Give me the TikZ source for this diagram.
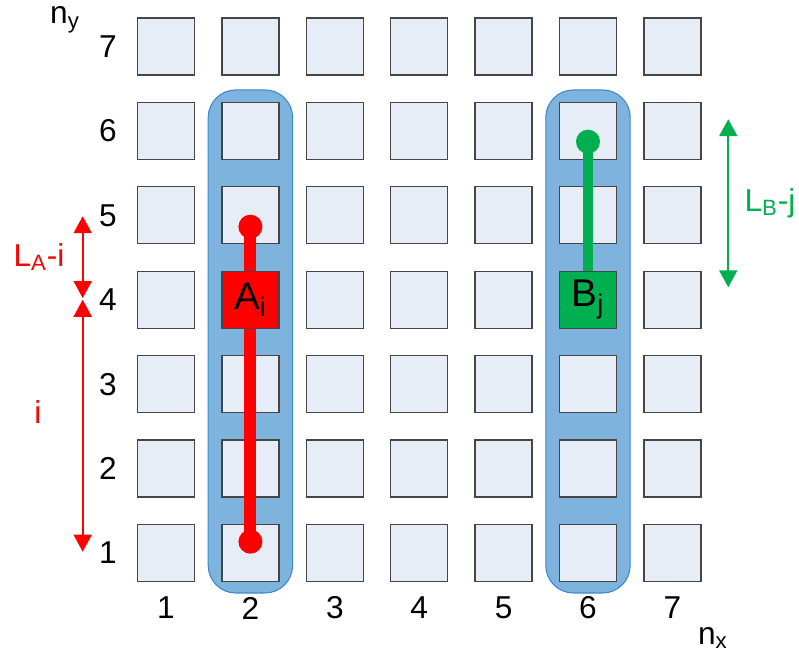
\documentclass[tikz,border=0pt]{standalone}
\usepackage{fontspec}
\setmainfont{Liberation Sans}
\usetikzlibrary{arrows.meta,positioning}
\definecolor{cellfill}{RGB}{230,237,247}
\definecolor{celledge}{RGB}{70,70,70}
\definecolor{colfill}{RGB}{126,179,222}
\definecolor{coledge}{RGB}{60,135,205}
\definecolor{bred}{RGB}{255,0,0}
\definecolor{bgreen}{RGB}{0,176,80}

\begin{document}
\begin{tikzpicture}[x=1.688cm,y=1.688cm,
  cell/.style={draw=celledge,fill=cellfill,line width=0.7pt,minimum size=1.14cm,inner sep=0pt,font=\fontsize{22}{24}\selectfont},
  num/.style={font=\fontsize{18}{20}\selectfont,inner sep=0pt},
  colbox/.style={draw=coledge,fill=colfill,line width=0.6pt,rounded corners=0.55cm},
  dot/.style={circle,inner sep=0pt,minimum size=0.48cm},
  tip/.style={{Triangle[length=0.34cm,width=0.36cm]}-{Triangle[length=0.34cm,width=0.36cm]},line width=1.1pt}]
  \useasboundingbox (-0.967,-0.220) rectangle (8.5,7.552);
  % chains behind the lattice
  \draw[colbox] (1.5,0.526) rectangle (2.5,6.486);
  \draw[colbox] (5.5,0.526) rectangle (6.5,6.486);
  % lattice and axis numbers
  \foreach \i in {1,...,7}{
    \foreach \j in {1,...,7}{\node[cell] (c\i\j) at (\i,\j) {};}
    \node[num] (x\i) at (\i,0.348) {\i};
    \node[num] (y\i) at (0.313,\i) {\i};
  }
  \node[num] (ny) at (-0.197,7.315) {n\textsubscript{y}};
  \node[num] (nx) at (7.48,-0.007) {n\textsubscript{x}};
  % polymer A
  \node[dot,fill=bred] (atop) at (2,4.866) {};
  \node[dot,fill=bred] (abot) at (2,1.134) {};
  \draw[bred,line width=6.8pt] (atop.center) -- (abot.center);
  \node[cell,fill=bred] (A) at (2,4) {A\textsubscript{i}};
  % polymer B
  \node[dot,fill=bgreen] (btop) at (6,5.873) {};
  \draw[bgreen,line width=6pt] (btop.center) -- (6,4);
  \node[cell,fill=bgreen] (B) at (6,4) {B\textsubscript{j}};
  % lengths
  \coordinate (la5) at (0.013,4.99);
  \coordinate (la4) at (0.013,4.02);
  \coordinate (li4) at (0.013,4.0);
  \coordinate (li1) at (0.013,1.015);
  \draw[tip,draw=bred,fill=bred] (la5) -- (la4);
  \draw[tip,draw=bred,fill=bred] (li4) -- (li1);
  \node[num,text=bred] (lai) at (-0.505,4.507) {L\textsubscript{A}-i};
  \node[num,text=bred] (ii) at (-0.517,2.674) {i};
  \coordinate (lb6) at (7.662,6.139);
  \coordinate (lb4) at (7.662,4.148);
  \draw[tip,draw=bgreen,fill=bgreen] (lb6) -- (lb4);
  \node[num,text=bgreen] (lbj) at (8.156,5.147) {L\textsubscript{B}-j};
\end{tikzpicture}
\end{document}
